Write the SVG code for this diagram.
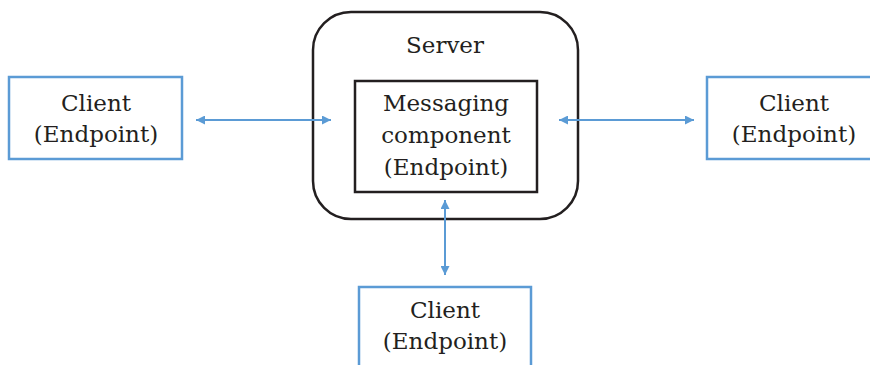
<svg xmlns="http://www.w3.org/2000/svg" width="870" height="365" viewBox="0 0 870 365">
  <style>
    .client { fill: #ffffff; stroke: #5B9BD5; stroke-width: 2.5; }
    .server { fill: #ffffff; stroke: #231F20; stroke-width: 2.5; }
    .inner { fill: #ffffff; stroke: #231F20; stroke-width: 2.5; }
    .label { font-family: "DejaVu Serif", "Liberation Serif", serif; font-size: 23px; fill: #231F20; text-anchor: middle; }
    .link { stroke: #5B9BD5; stroke-width: 2; fill: none; marker-start: url(#head); marker-end: url(#head); }
  </style>
  <defs>
    <marker id="head" viewBox="0 0 10 10" refX="10" refY="5" markerWidth="11" markerHeight="9" markerUnits="userSpaceOnUse" orient="auto-start-reverse">
      <path d="M0,0 L10,5 L0,10 z" fill="#5B9BD5"/>
    </marker>
  </defs>
  <rect width="870" height="365" fill="#ffffff"/>

  <g id="server">
    <rect class="server" x="313" y="12" width="265" height="207" rx="38" ry="38"/>
    <text class="label" x="445" y="53">Server</text>
  </g>

  <g id="messaging-component">
    <rect class="inner" x="355" y="81" width="182" height="111"/>
    <text class="label" x="446" y="111">Messaging</text>
    <text class="label" x="446" y="143">component</text>
    <text class="label" x="446" y="175">(Endpoint)</text>
  </g>

  <g id="client-left">
    <rect class="client" x="9" y="77" width="173" height="82"/>
    <text class="label" x="96" y="111">Client</text>
    <text class="label" x="96" y="142">(Endpoint)</text>
  </g>

  <g id="client-right">
    <rect class="client" x="707" y="77" width="176" height="82"/>
    <text class="label" x="794" y="111">Client</text>
    <text class="label" x="794" y="142">(Endpoint)</text>
  </g>

  <g id="client-bottom">
    <rect class="client" x="359" y="287" width="172" height="90"/>
    <text class="label" x="445" y="318">Client</text>
    <text class="label" x="445" y="349">(Endpoint)</text>
  </g>

  <g id="connectors">
    <line class="link" x1="196" y1="120" x2="331" y2="120"/>
    <line class="link" x1="559" y1="120" x2="694" y2="120"/>
    <line class="link" x1="445" y1="200" x2="445" y2="275"/>
  </g>
</svg>
